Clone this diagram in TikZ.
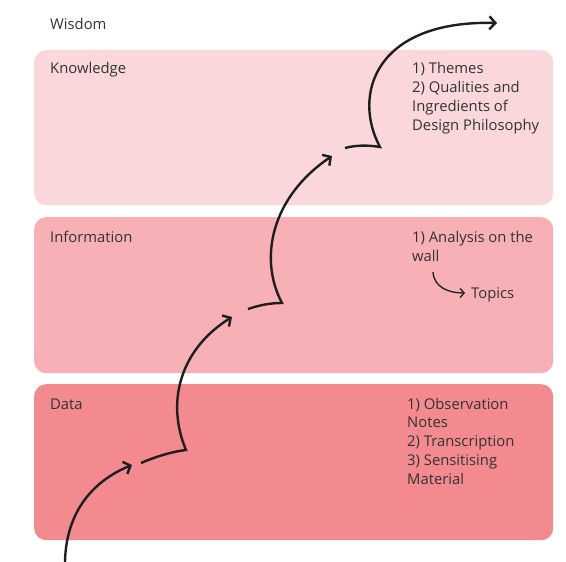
\documentclass[tikz,border=0pt]{standalone}
\usepackage{fontspec}
\setmainfont{Open Sans}
\usetikzlibrary{arrows.meta}
\definecolor{kcol}{HTML}{FAD7DA}
\definecolor{icol}{HTML}{F7B0B5}
\definecolor{dcol}{HTML}{F38A8F}
\definecolor{txt}{HTML}{333333}
\definecolor{ink}{HTML}{1E1E1E}
\tikzset{
  band/.style={rounded corners=12pt, draw=none},
  lbl/.style={anchor=base west, inner sep=0pt, text=txt, font=\fontsize{14.8}{18.7}\selectfont},
  lst/.style={anchor=base west, inner sep=0pt, text=txt, align=left, font=\fontsize{14.8}{18.7}\selectfont},
  bigarrow/.style={draw=ink, line width=2.4pt, line join=miter, miter limit=20},
  tip/.style={-{Straight Barb[length=6pt,width=13pt,line width=2.4pt]}},
  smallarrow/.style={draw=ink, line width=1.3pt, -{Straight Barb[length=4pt,width=9pt]}}
}
\begin{document}
\begin{tikzpicture}[x=1pt,y=-1pt]
\useasboundingbox (0,0) rectangle (566,562);
% bands
\node[band, fill=kcol, minimum width=519pt, minimum height=155pt, anchor=north west] (kbox) at (34,50) {};
\node[band, fill=icol, minimum width=519pt, minimum height=156pt, anchor=north west] (ibox) at (34,217) {};
\node[band, fill=dcol, minimum width=519pt, minimum height=156pt, anchor=north west] (dbox) at (34,384) {};
% left labels
\node[lbl] (wisdom) at (50,29) {Wisdom};
\node[lbl] (know) at (50,74) {Knowledge};
\node[lbl] (info) at (50,242) {Information};
\node[lbl] (data) at (50,409) {Data};
% right texts (anchor at baseline of last line)
\node[lst] (ktext) at (412,130) {1) Themes\\2) Qualities and\\Ingredients of\\Design Philosophy};
\node[lst] (itext) at (412,261) {1) Analysis on the\\wall};
\node[lbl] (topics) at (471,298) {Topics};
\node[lst] (dtext) at (407,484) {1) Observation\\Notes\\2) Transcription\\3) Sensitising\\Material};
% small arrow
\coordinate (sa) at (433,272);
\coordinate (sb) at (465,293);
\draw[smallarrow] (sa) .. controls (434,287) and (448,293) .. (sb);
% big staircase arrow
\coordinate (a0) at (65,562);
\coordinate (a1) at (132,465);
\coordinate (b0) at (141,463);
\coordinate (b1) at (186,450);
\coordinate (b2) at (232,317);
\coordinate (c0) at (248,309);
\coordinate (c1) at (282,303);
\coordinate (c2) at (332,156);
\coordinate (d0) at (345,148);
\coordinate (d1) at (380,147);
\coordinate (d2) at (497,23);
\draw[bigarrow, tip] (a0) .. controls (66,510) and (95,480) .. (a1);
\draw[bigarrow, tip] (b0) .. controls (155,457) and (170,452) .. (b1)
   .. controls (165,400) and (182,348) .. (b2);
\draw[bigarrow, tip] (c0) .. controls (260,305) and (270,303) .. (c1)
   .. controls (259,260) and (270,198) .. (c2);
\draw[bigarrow, tip] (d0) .. controls (356,145) and (368,145) .. (d1)
   .. controls (352,95) and (375,20) .. (d2);
\end{tikzpicture}
\end{document}
